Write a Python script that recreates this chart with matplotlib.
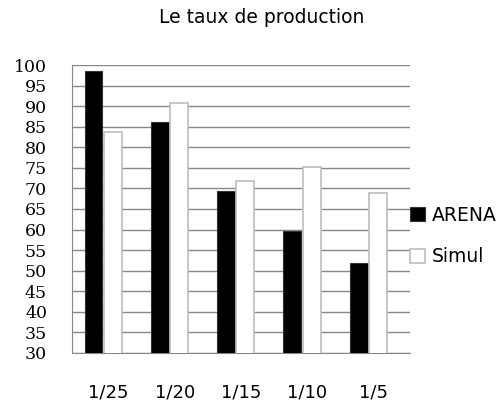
import matplotlib
matplotlib.use("Agg")
from matplotlib import pyplot as plt
import numpy as np

# data
categories = ['1/25', '1/20', '1/15', '1/10', '1/5']
arena = [98.6, 86.2, 69.4, 59.7, 51.9]
simul = [83.8, 90.7, 71.9, 75.1, 68.8]
yticks = list(range(30, 101, 5))

fig = plt.figure(figsize=(5.0, 4.07), dpi=100)
ax = fig.add_axes([0.144, 0.133, 0.676, 0.707])

x = np.arange(len(categories))
w = 0.27
gap = 0.01
shift = -0.08  # bar groups sit a little left of the tick labels
ax.bar(x - w / 2 - gap + shift, arena, width=w, bottom=0, color='black',
       edgecolor='#333333', linewidth=0.8, label='ARENA', zorder=3)
ax.bar(x + w / 2 + gap + shift, simul, width=w, bottom=0, color='white',
       edgecolor='#bdbdbd', linewidth=1.2, label='Simul', zorder=3)

ax.set_ylim(30, 100)
ax.set_xlim(-0.55, len(categories) - 0.45)
ax.set_yticks(yticks)
ax.set_yticklabels([str(t) for t in yticks], family='DejaVu Serif', fontsize=12.5)
ax.set_xticks(x)
ax.set_xticklabels(categories, family='DejaVu Sans', fontsize=13)
ax.tick_params(axis='y', length=0, pad=18)
ax.tick_params(axis='x', length=0, pad=22)

ax.yaxis.grid(True, color='#888888', linewidth=1.0, zorder=0)
ax.set_axisbelow(True)
for side in ['top', 'right']:
    ax.spines[side].set_visible(False)
ax.spines['left'].set_color('#888888')
ax.spines['bottom'].set_color('#888888')

ax.set_title('Le taux de production', family='DejaVu Sans', fontsize=13.5,
             pad=30, x=0.56)

leg = ax.legend(loc='center left', bbox_to_anchor=(1.0, 0.406), frameon=False,
                fontsize=13.5, handlelength=0.78, handleheight=0.78,
                handletextpad=0.36, labelspacing=1.2, borderaxespad=0,
                borderpad=0)

fig.savefig('out.png', dpi=100)
